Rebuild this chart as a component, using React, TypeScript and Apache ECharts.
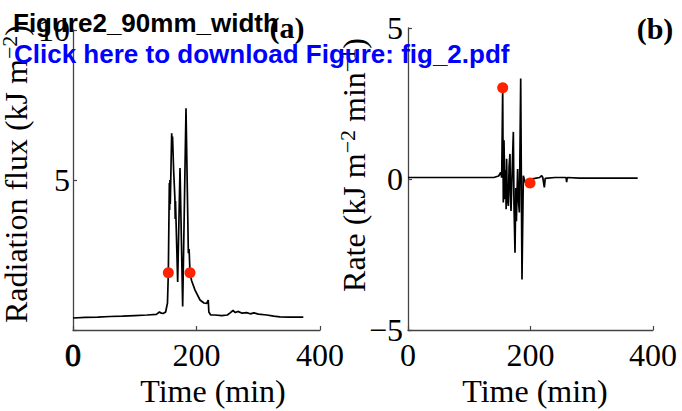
import React, { useEffect, useRef } from "react";
import * as echarts from "echarts";

const xTicks = [0, 200, 400];
const fluxTicks = [0, 5, 10];
const rateTicks = [-5, 0, 5];

const fluxTime = [0, 20, 40, 60, 80, 100, 120, 135, 140, 143, 146, 150, 153, 154.4, 156, 156.5, 157, 157.5, 158.5, 159.8, 160.5, 161.2, 163, 165, 165.5, 166, 169.5, 173.3, 177.6, 183, 186.8, 188, 189.5, 192, 197.6, 205.7, 212, 216.5, 219, 220, 223, 230, 241, 250, 255, 259, 263, 267, 274, 281, 287, 293, 300, 314, 325, 335, 350, 373];
const fluxValue = [0.40, 0.42, 0.43, 0.45, 0.46, 0.48, 0.50, 0.52, 0.6, 0.56, 0.55, 0.6, 0.9, 1.91, 4.9, 4.0, 5.0, 4.2, 5.2, 6.56, 6.3, 6.45, 5.3, 4.4, 3.7, 4.3, 1.6, 5.4, 0.78, 7.39, 2.56, 2.7, 1.91, 1.65, 1.33, 1.0, 0.9, 0.89, 1.0, 0.6, 0.5, 0.5, 0.48, 0.5, 0.58, 0.65, 0.58, 0.62, 0.56, 0.58, 0.54, 0.57, 0.53, 0.5, 0.46, 0.44, 0.43, 0.43];
const fluxDotTime = [154.4, 189.5];
const fluxDotValue = [1.91, 1.91];

const rateTime = [0, 50, 100, 140, 148, 151.3, 153, 154.6, 155.6, 156.7, 158.4, 159.5, 160.2, 161, 162, 163.8, 165, 166.5, 167.2, 168.2, 170, 172, 173, 174.7, 176, 177, 179, 180, 181.8, 184, 186.1, 188.3, 191, 195, 200, 207, 215, 218.3, 220, 222.6, 224, 240, 258, 259, 260, 280, 320, 375];
const rateValue = [0.05, 0.05, 0.05, 0.05, 0.1, 0.22, 0.05, 3.02, -0.78, 1.28, -0.67, 0.3, -1.0, 0.67, -0.6, -0.89, 0.4, 0.83, -0.5, -1.06, 0.2, 1.56, -0.8, -2.44, -0.3, -1.4, 0.33, -0.6, -1.11, 3.33, -3.33, 0.11, -0.11, -0.05, 0.0, 0.02, 0.05, 0.11, 0.05, -0.28, 0.02, 0.05, 0.05, -0.1, 0.05, 0.03, 0.03, 0.03];
const rateDotTime = [154.6, 199.2];
const rateDotValue = [3.02, -0.13];

const SERIF = "'Liberation Serif', 'Times New Roman', serif";
const SANS = "'Liberation Sans', Arial, sans-serif";

const zip = (a: number[], b: number[]) => a.map((v, i) => [v, b[i]]);

export default function App() {
  const ref = useRef<HTMLDivElement>(null);
  useEffect(() => {
    if (!ref.current) return;
    const chart = echarts.init(ref.current, undefined, { renderer: "svg" });
    const axisLine = { show: true, onZero: false, lineStyle: { color: "#444", width: 1.3 } };
    const axisTick = { show: true, inside: true, length: 4, lineStyle: { color: "#444", width: 1.2 } };
    const labelBase = { color: "#000", fontFamily: SERIF, fontSize: 32 };
    const xAxisCommon = (idx: number) => ({
      type: "value",
      gridIndex: idx,
      min: xTicks[0],
      max: xTicks[xTicks.length - 1],
      interval: xTicks[1] - xTicks[0],
      axisLine,
      axisTick,
      splitLine: { show: false },
      axisLabel: {
        ...labelBase,
        margin: 9,
        formatter: (v: number) => (idx === 0 && v === 0 ? "{b|0}" : String(v)),
        rich: { b: { ...labelBase, textBorderColor: "#000", textBorderWidth: 0.9 } },
      },
    });
    const supRich = {
      n: { fontFamily: SERIF, fontSize: 32, color: "#000", lineHeight: 36 },
      s: { fontFamily: SERIF, fontSize: 22, color: "#000", lineHeight: 22, verticalAlign: "top" },
    };
    chart.setOption({
      animation: false,
      backgroundColor: "#fff",
      grid: [
        { left: 73, top: 30, width: 247, height: 300 },
        { left: 408, top: 28, width: 245, height: 302 },
      ],
      xAxis: [xAxisCommon(0), xAxisCommon(1)],
      yAxis: [
        {
          type: "value",
          gridIndex: 0,
          min: fluxTicks[0],
          max: fluxTicks[fluxTicks.length - 1],
          interval: fluxTicks[1] - fluxTicks[0],
          axisLine,
          axisTick,
          splitLine: { show: false },
          axisLabel: { ...labelBase, margin: 3, formatter: (v: number) => (v === 0 ? "" : String(v)) },
        },
        {
          type: "value",
          gridIndex: 1,
          min: rateTicks[0],
          max: rateTicks[rateTicks.length - 1],
          interval: rateTicks[1] - rateTicks[0],
          axisLine,
          axisTick,
          splitLine: { show: false },
          axisLabel: { ...labelBase, margin: 5, formatter: (v: number) => (v < 0 ? "\u2212" + Math.abs(v) : String(v)) },
        },
      ],
      series: [
        {
          type: "line",
          xAxisIndex: 0,
          yAxisIndex: 0,
          data: zip(fluxTime, fluxValue),
          showSymbol: false,
          lineStyle: { color: "#000", width: 1.7 },
          z: 2,
        },
        {
          type: "scatter",
          xAxisIndex: 0,
          yAxisIndex: 0,
          data: zip(fluxDotTime, fluxDotValue),
          symbolSize: 11,
          itemStyle: { color: "#ff2200", opacity: 1 },
          z: 3,
        },
        {
          type: "line",
          xAxisIndex: 1,
          yAxisIndex: 1,
          data: zip(rateTime, rateValue),
          showSymbol: false,
          lineStyle: { color: "#000", width: 1.7 },
          z: 2,
        },
        {
          type: "scatter",
          xAxisIndex: 1,
          yAxisIndex: 1,
          data: zip(rateDotTime, rateDotValue),
          symbolSize: 11,
          itemStyle: { color: "#ff2200", opacity: 1 },
          z: 3,
        },
      ],
      graphic: [
        {
          type: "text",
          x: 16,
          y: 174,
          rotation: Math.PI / 2,
          z: 50,
          style: {
            text: "{n|Radiation flux (kJ m}{s|\u22122}{n|)}",
            rich: supRich,
            align: "center",
            verticalAlign: "middle",
          },
        },
        {
          type: "text",
          x: 354,
          y: 165,
          rotation: Math.PI / 2,
          z: 50,
          style: {
            text: "{n|Rate (kJ m}{s|\u22122}{n| min}{s|\u22121}{n|)}",
            rich: supRich,
            align: "center",
            verticalAlign: "middle",
          },
        },
        {
          type: "text",
          x: 213,
          y: 391,
          z: 50,
          style: { text: "Time (min)", font: `32px ${SERIF}`, fill: "#000", align: "center", verticalAlign: "middle" },
        },
        {
          type: "text",
          x: 535,
          y: 391,
          z: 50,
          style: { text: "Time (min)", font: `32px ${SERIF}`, fill: "#000", align: "center", verticalAlign: "middle" },
        },
        {
          type: "text",
          x: 287,
          y: 27,
          z: 60,
          style: { text: "(a)", font: `bold 30px ${SERIF}`, fill: "#000", align: "center", verticalAlign: "middle" },
        },
        {
          type: "text",
          x: 655,
          y: 28,
          z: 60,
          style: { text: "(b)", font: `bold 30px ${SERIF}`, fill: "#000", align: "center", verticalAlign: "middle" },
        },
        {
          type: "text",
          x: 13,
          y: 23,
          z: 100,
          style: { text: "Figure2_90mm_width", font: `bold 26px ${SANS}`, fill: "#000", align: "left", verticalAlign: "middle" },
        },
        {
          type: "text",
          x: 14,
          y: 54,
          z: 100,
          style: { text: "Click here to download Figure: fig_2.pdf", font: `bold 26px ${SANS}`, fill: "#0000ff", align: "left", verticalAlign: "middle" },
        },
      ],
    });
    return () => chart.dispose();
  }, []);
  return (
    <div
      ref={ref}
      style={{ position: "absolute", left: 0, top: 0, width: 682, height: 411, background: "#fff" }}
    />
  );
}
